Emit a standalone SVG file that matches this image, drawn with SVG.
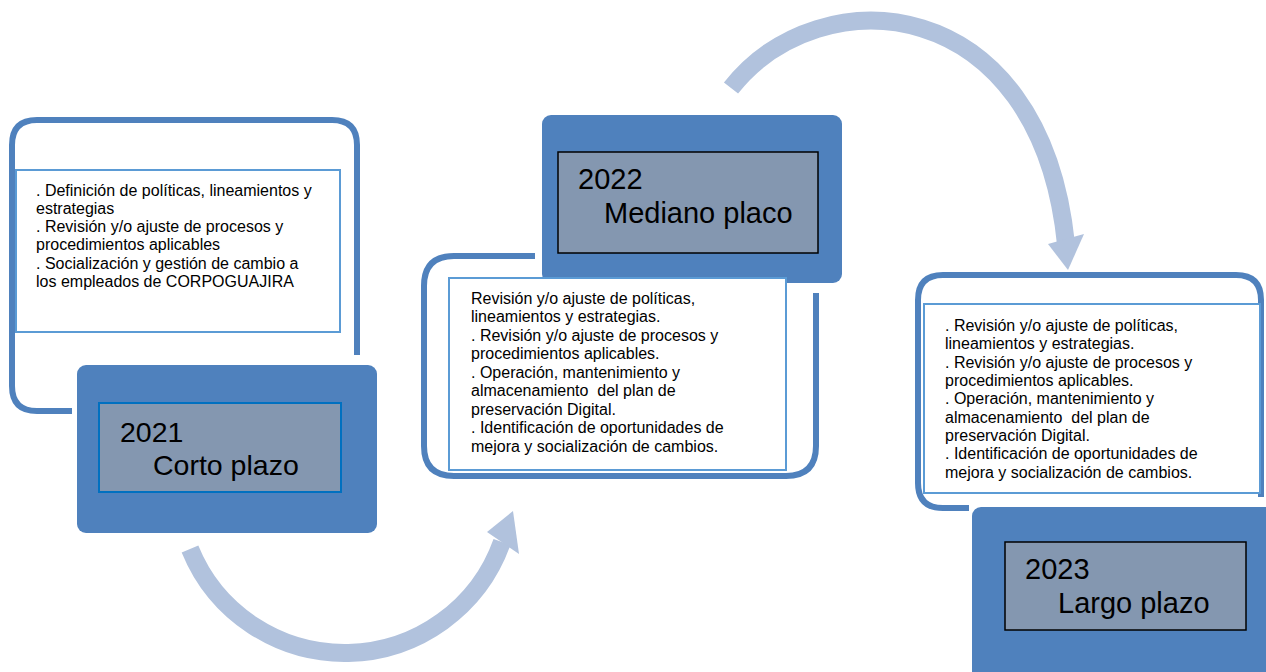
<svg xmlns="http://www.w3.org/2000/svg" width="1266" height="672" viewBox="0 0 1266 672">
<style>
.frame{fill:none;stroke:#4F81BD;stroke-width:6;stroke-linecap:butt}
.tbox{fill:#FFFFFF;stroke:#5B9BD5;stroke-width:2}
.dark{fill:#4F81BD}
.gray{fill:#8497B0;stroke:#000000;stroke-width:1.5}
.body{font-family:"Liberation Sans",Arial,sans-serif;font-size:16px;fill:#000000;white-space:pre}
.title{font-family:"Liberation Sans",Arial,sans-serif;font-size:29px;fill:#000000}
.arrow{fill:none;stroke:#B1C2DD;stroke-width:18}
.head{fill:#B1C2DD}
</style>
<rect width="1266" height="672" fill="#FFFFFF"/>
<g id="connectors">
<path class="arrow" d="M 190 549 A 167 167 0 0 0 502 542"/>
<polygon class="head" points="513,511 487,532 519,554"/>
<path class="arrow" d="M 731 88 C 820 -25, 1040 -10, 1066 244"/>
<polygon class="head" points="1068,270 1048,244 1084,234"/>
</g>
<g id="node-2021">
<path class="frame" d="M 72 411 L 37 411 Q 12 411 12 386 L 12 145 Q 12 120 37 120 L 332 120 Q 357 120 357 145 L 357 355"/>
<rect class="tbox" x="16" y="170" width="324" height="162"/>
<text class="body" x="36" y="196">. Definición de políticas, lineamientos y</text>
<text class="body" x="36" y="214">estrategias</text>
<text class="body" x="36" y="232">. Revisión y/o ajuste de procesos y</text>
<text class="body" x="36" y="250">procedimientos aplicables</text>
<text class="body" x="36" y="269">. Socialización y gestión de cambio a</text>
<text class="body" x="36" y="287">los empleados de CORPOGUAJIRA</text>
<rect class="dark" x="77" y="365" width="300" height="168" rx="9"/>
<rect class="gray" x="99" y="403" width="242" height="89" style="stroke:#0070C0;stroke-width:2"/>
<text class="title" x="120" y="442" style="font-size:28.5px">2021</text>
<text class="title" x="153" y="475" style="font-size:28.5px">Corto plazo</text>
</g>
<g id="node-2022">
<path class="frame" d="M 535 256 L 454 256 Q 424 256 424 286 L 424 446 Q 424 476 454 476 L 786 476 Q 816 476 816 446 L 816 293"/>
<rect class="dark" x="542" y="115" width="300" height="168" rx="9"/>
<rect class="gray" x="558" y="152" width="260" height="101"/>
<text class="title" x="578" y="189">2022</text>
<text class="title" x="604" y="223">Mediano placo</text>
<rect class="tbox" x="449" y="278" width="337" height="192"/>
<text class="body" x="471" y="304">Revisión y/o ajuste de políticas,</text>
<text class="body" x="471" y="322">lineamientos y estrategias.</text>
<text class="body" x="471" y="341">. Revisión y/o ajuste de procesos y</text>
<text class="body" x="471" y="359">procedimientos aplicables.</text>
<text class="body" x="471" y="378">. Operación, mantenimiento y</text>
<text class="body" x="471" y="396">almacenamiento  del plan de</text>
<text class="body" x="471" y="415">preservación Digital.</text>
<text class="body" x="471" y="433">. Identificación de oportunidades de</text>
<text class="body" x="471" y="452">mejora y socialización de cambios.</text>
</g>
<g id="node-2023">
<path class="frame" d="M 969 508 L 943 508 Q 918 508 918 483 L 918 300 Q 918 275 943 275 L 1236 275 Q 1261 275 1261 300 L 1261 497"/>
<rect class="tbox" x="924" y="304" width="336" height="189"/>
<text class="body" x="945" y="331">. Revisión y/o ajuste de políticas,</text>
<text class="body" x="945" y="349">lineamientos y estrategias.</text>
<text class="body" x="945" y="368">. Revisión y/o ajuste de procesos y</text>
<text class="body" x="945" y="386">procedimientos aplicables.</text>
<text class="body" x="945" y="404">. Operación, mantenimiento y</text>
<text class="body" x="945" y="423">almacenamiento  del plan de</text>
<text class="body" x="945" y="441">preservación Digital.</text>
<text class="body" x="945" y="459">. Identificación de oportunidades de</text>
<text class="body" x="945" y="478">mejora y socialización de cambios.</text>
<rect class="dark" x="972" y="507" width="310" height="180" rx="9"/>
<rect class="gray" x="1005" y="542" width="241" height="88"/>
<text class="title" x="1025" y="579">2023</text>
<text class="title" x="1058" y="613">Largo plazo</text>
</g>
</svg>
